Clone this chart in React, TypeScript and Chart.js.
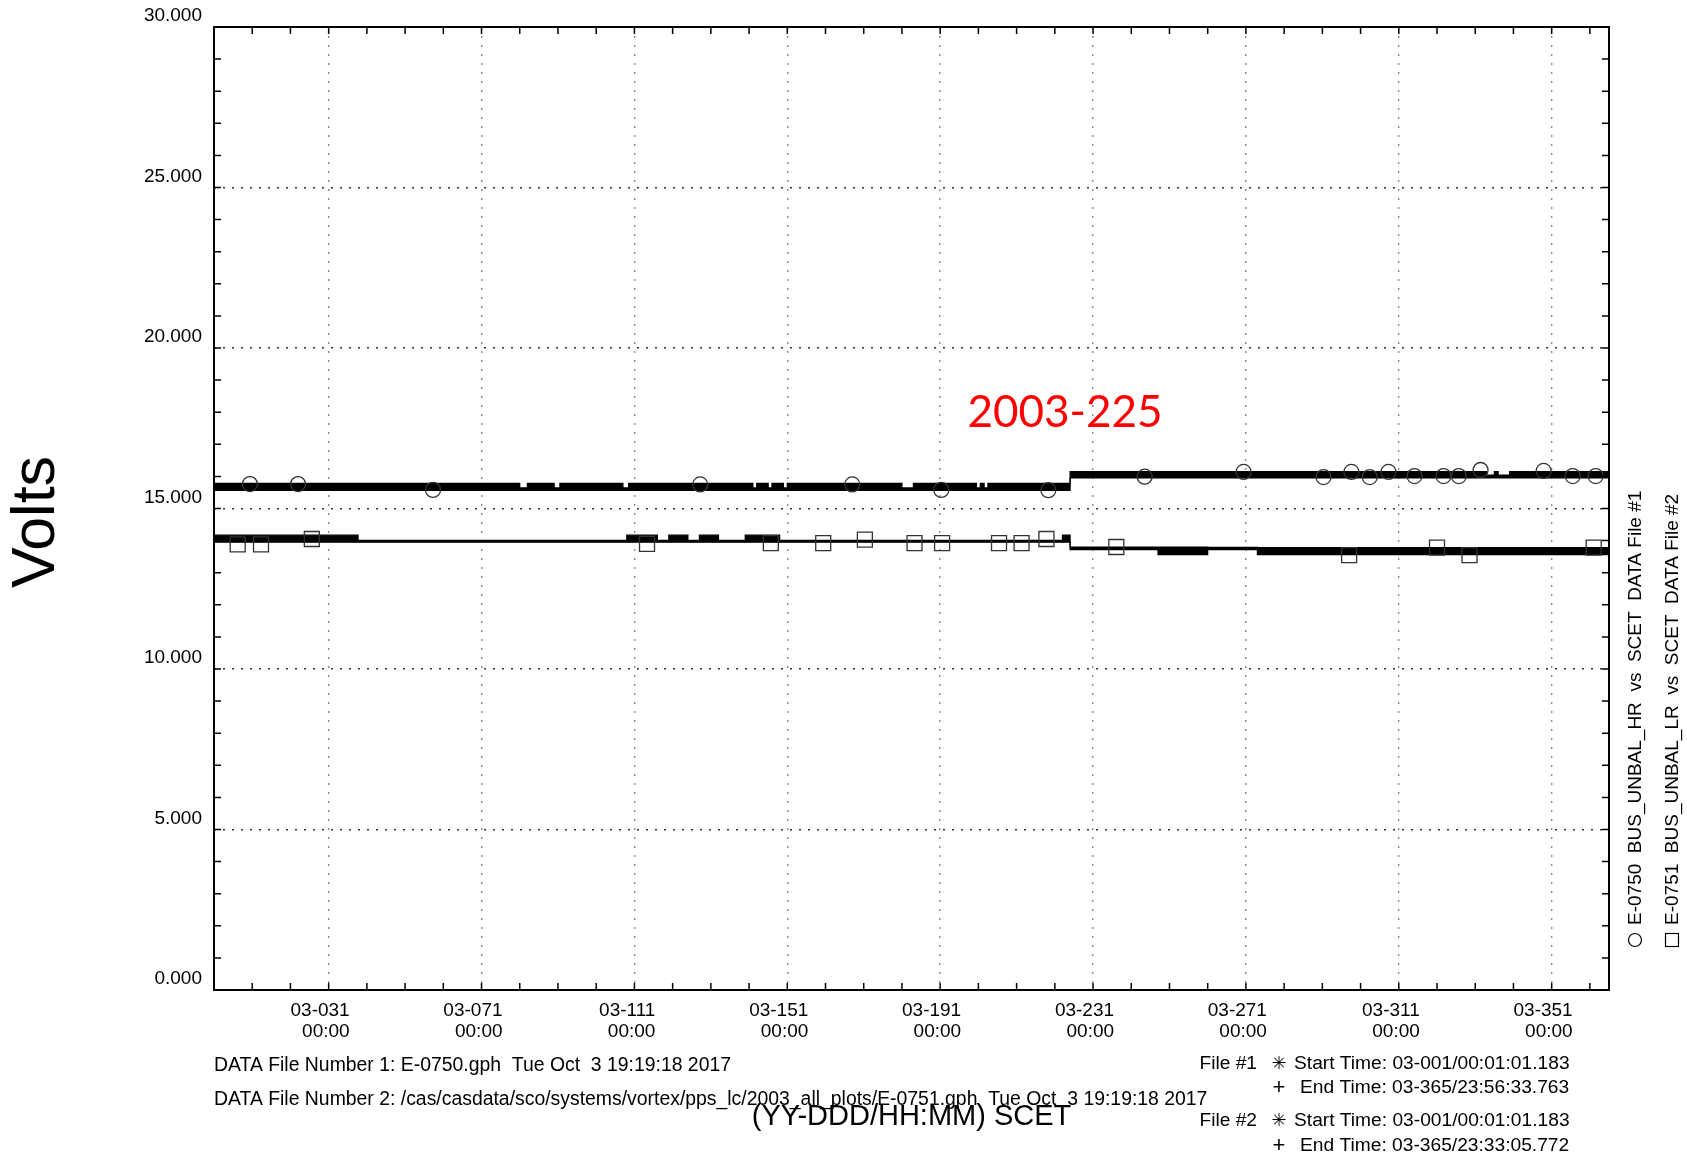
import React, { useEffect, useRef } from 'react';
import Chart from 'chart.js/auto';

const FONT = '"Liberation Sans", Arial, Helvetica, sans-serif';

// ---- axes ----
const X_MIN_DAY = 1;
const X_MAX_DAY = 366;
const X_TICK_DAYS = [31, 71, 111, 151, 191, 231, 271, 311, 351];
const X_TICK_LABELS = ['03-031', '03-071', '03-111', '03-151', '03-191', '03-231', '03-271', '03-311', '03-351'];
const X_TICK_TIME = '00:00';
const X_MINOR_FIRST = 11;
const X_MINOR_STEP = 10;
const Y_MIN = 0;
const Y_MAX = 30;
const Y_MAJOR_STEP = 5;
const Y_MINOR_STEP = 1;

// ---- E-0750 BUS_UNBAL_HR : envelope of the telemetry band (step-wise) ----
const HR_BAND_DAYS = [1, 81, 83, 90, 91.5, 108, 109.5, 142, 143, 146, 147, 150, 151, 181, 184, 200.5, 201.5, 202.5, 203.5, 225, 334, 336, 337, 340, 366];
const HR_BAND_TOP = [15.78, 15.64, 15.78, 15.64, 15.78, 15.64, 15.78, 15.64, 15.78, 15.64, 15.78, 15.64, 15.78, 15.64, 15.78, 15.64, 15.78, 15.64, 15.78, 16.15, 16.04, 16.15, 16.04, 16.15, 16.15];
const HR_BAND_BOTTOM = [15.56, 15.56, 15.56, 15.56, 15.56, 15.56, 15.56, 15.56, 15.56, 15.56, 15.56, 15.56, 15.56, 15.56, 15.56, 15.56, 15.56, 15.56, 15.56, 15.95, 15.95, 15.95, 15.95, 15.95, 15.95];
const HR_MARK_DAYS = [10.4, 23.0, 58.3, 128.2, 168, 191.3, 219.3, 244.5, 270.4, 291.3, 298.6, 303.4, 308.3, 315.1, 322.7, 326.7, 332.4, 348.9, 356.5, 362.5];
const HR_MARK_VOLTS = [15.76, 15.76, 15.58, 15.75, 15.75, 15.58, 15.57, 15.99, 16.14, 15.98, 16.14, 15.98, 16.14, 16.01, 16.01, 16.01, 16.2, 16.17, 16.01, 16.01];

// ---- E-0751 BUS_UNBAL_LR ----
const LR_BAND_DAYS = [1, 38.7, 109, 117, 120, 125, 128, 133, 140, 149, 223, 225, 248, 261, 274, 366];
const LR_BAND_TOP = [14.17, 14.01, 14.17, 14.01, 14.17, 14.01, 14.17, 14.01, 14.17, 14.01, 14.17, 13.80, 13.80, 13.79, 13.78, 13.78];
const LR_BAND_BOTTOM = [13.95, 13.95, 13.95, 13.95, 13.95, 13.95, 13.95, 13.95, 13.95, 13.95, 13.95, 13.72, 13.56, 13.72, 13.56, 13.56];
const LR_MARK_DAYS = [7.2, 13.3, 26.6, 114.3, 146.7, 160.4, 171.3, 184.3, 191.5, 206.4, 212.3, 218.8, 237.1, 298, 321, 329.5, 362];
const LR_MARK_VOLTS = [13.88, 13.88, 14.05, 13.9, 13.92, 13.92, 14.03, 13.92, 13.92, 13.92, 13.92, 14.05, 13.8, 13.55, 13.78, 13.55, 13.78];

// ---- texts ----
const Y_TITLE = 'Volts';
const X_TITLE = '(YY-DDD/HH:MM) SCET';
const LEGEND_HR = 'E-0750  BUS_UNBAL_HR  vs  SCET  DATA File #1';
const LEGEND_LR = 'E-0751  BUS_UNBAL_LR  vs  SCET  DATA File #2';
const FOOTER_1 = 'DATA File Number 1: E-0750.gph  Tue Oct  3 19:19:18 2017';
const FOOTER_2 = 'DATA File Number 2: /cas/casdata/sco/systems/vortex/pps_lc/2003_all_plots/E-0751.gph  Tue Oct  3 19:19:18 2017';
const FILE_LABELS = ['File #1', 'File #2'];
const START_TIMES = ['Start Time: 03-001/00:01:01.183', 'Start Time: 03-001/00:01:01.183'];
const END_TIMES = ['End Time: 03-365/23:56:33.763', 'End Time: 03-365/23:33:05.772'];
const ANNOTATION = '2003-225';

const pts = (xs: number[], ys: number[]) => xs.map((x, i) => ({ x, y: ys[i] }));

export default function App() {
  const ref = useRef<HTMLCanvasElement>(null);

  useEffect(() => {
    const canvas = ref.current;
    if (!canvas) return;

    const overlay = {
      id: 'overlay',
      afterDatasetsDraw(chart: any) {
        const { ctx, chartArea: a, scales } = chart;
        const xs = scales.x;
        const ys = scales.y;
        ctx.save();
        ctx.strokeStyle = '#000';
        ctx.lineWidth = 1.5;
        ctx.beginPath();
        for (let v = Y_MIN; v <= Y_MAX; v += Y_MINOR_STEP) {
          const py = ys.getPixelForValue(v);
          ctx.moveTo(a.left, py);
          ctx.lineTo(a.left + 7, py);
          ctx.moveTo(a.right, py);
          ctx.lineTo(a.right - 7, py);
        }
        for (let d = X_MINOR_FIRST; d < X_MAX_DAY; d += X_MINOR_STEP) {
          const px = xs.getPixelForValue(d);
          ctx.moveTo(px, a.bottom);
          ctx.lineTo(px, a.bottom - 7);
          ctx.moveTo(px, a.top);
          ctx.lineTo(px, a.top + 7);
        }
        ctx.stroke();
        ctx.lineWidth = 2;
        ctx.strokeRect(a.left, a.top, a.right - a.left, a.bottom - a.top);
        ctx.restore();
      },
      afterDraw(chart: any) {
        const ctx = chart.ctx;
        ctx.save();
        ctx.fillStyle = '#000';
        ctx.textBaseline = 'middle';

        // y-axis title
        ctx.save();
        ctx.translate(37, 522);
        ctx.rotate(-Math.PI / 2);
        ctx.textAlign = 'center';
        ctx.font = `61px ${FONT}`;
        ctx.fillText(Y_TITLE, 0, 0);
        ctx.restore();

        ctx.font = `19.4px ${FONT}`;
        ctx.textAlign = 'left';
        ctx.fillText(FOOTER_1, 214, 1066);
        ctx.fillText(FOOTER_2, 214, 1100);

        const rows = [[1064, 1088], [1121, 1146]];
        rows.forEach((r, i) => {
          ctx.font = `19.2px ${FONT}`;
          ctx.textAlign = 'right';
          ctx.fillText(FILE_LABELS[i], 1257, r[0]);
          ctx.textAlign = 'left';
          ctx.fillText(START_TIMES[i], 1294, r[0]);
          ctx.fillText(END_TIMES[i], 1300, r[1]);
          ctx.textAlign = 'center';
          ctx.font = `18px "DejaVu Sans", sans-serif`;
          ctx.fillText('\u2733', 1279, r[0]);
          ctx.font = `22px ${FONT}`;
          ctx.fillText('+', 1279, r[1]);
        });

        // rotated legend
        const legend = (cx: number, text: string, circle: boolean) => {
          ctx.save();
          ctx.translate(cx, 940);
          ctx.rotate(-Math.PI / 2);
          ctx.strokeStyle = '#000';
          ctx.lineWidth = 1.2;
          if (circle) {
            ctx.beginPath();
            ctx.arc(0, 0, 6.5, 0, Math.PI * 2);
            ctx.stroke();
          } else {
            ctx.strokeRect(-6.5, -6.5, 13, 13);
          }
          ctx.font = `19px ${FONT}`;
          ctx.textAlign = 'left';
          ctx.textBaseline = 'middle';
          ctx.fillText(text, 15, 1);
          ctx.restore();
        };
        legend(1635, LEGEND_HR, true);
        legend(1672, LEGEND_LR, false);

        ctx.fillStyle = '#ff0000';
        ctx.font = '44px Lato, "Open Sans", sans-serif';
        ctx.textAlign = 'center';
        ctx.fillText(ANNOTATION, 1065, 413);
        ctx.restore();
      },
    };

    const bandStyle = {
      stepped: true,
      pointRadius: 0,
      borderColor: '#000',
      borderWidth: 1.2,
      backgroundColor: '#000',
    };
    const markStyle = {
      showLine: false,
      pointBackgroundColor: 'rgba(0,0,0,0)',
      pointBorderColor: '#333',
      pointBorderWidth: 1.3,
    };

    const chart = new Chart(canvas, {
      type: 'line',
      data: {
        datasets: [
          { ...markStyle, label: 'HR marks', data: pts(HR_MARK_DAYS, HR_MARK_VOLTS), pointStyle: 'circle', pointRadius: 7.5 },
          { ...markStyle, label: 'LR marks', data: pts(LR_MARK_DAYS, LR_MARK_VOLTS), pointStyle: 'rect', pointRadius: 10.6 },
          { ...bandStyle, label: 'HR top', data: pts(HR_BAND_DAYS, HR_BAND_TOP), fill: '+1' },
          { ...bandStyle, label: 'HR bottom', data: pts(HR_BAND_DAYS, HR_BAND_BOTTOM), fill: false },
          { ...bandStyle, label: 'LR top', data: pts(LR_BAND_DAYS, LR_BAND_TOP), fill: '+1' },
          { ...bandStyle, label: 'LR bottom', data: pts(LR_BAND_DAYS, LR_BAND_BOTTOM), fill: false },
        ] as any,
      },
      options: {
        responsive: false,
        devicePixelRatio: 1,
        animation: false,
        layout: { padding: { left: 0, right: 78, top: 27, bottom: 0 } },
        plugins: { legend: { display: false }, tooltip: { enabled: false } },
        scales: {
          x: {
            type: 'linear',
            min: X_MIN_DAY,
            max: X_MAX_DAY,
            afterBuildTicks: (s: any) => {
              s.ticks = X_TICK_DAYS.map((v) => ({ value: v }));
            },
            afterFit: (s: any) => {
              s.height = 169;
            },
            ticks: {
              autoSkip: false,
              maxRotation: 0,
              minRotation: 0,
              align: 'end',
              labelOffset: 21,
              padding: 10,
              color: '#000',
              font: { family: FONT, size: 19, lineHeight: 1.1 },
              callback: (_v: any, i: number) => [X_TICK_LABELS[i], X_TICK_TIME],
            },
            grid: { drawTicks: false, color: '#8a8a8a', lineWidth: 1.4 },
            border: { display: false, dash: [2, 7] },
            title: {
              display: true,
              text: X_TITLE,
              color: '#000',
              font: { family: FONT, size: 29, lineHeight: 1.2 },
              padding: { top: 0, bottom: 25 },
            },
          },
          y: {
            type: 'linear',
            min: Y_MIN,
            max: Y_MAX,
            afterFit: (s: any) => {
              s.width = 214;
            },
            ticks: {
              stepSize: Y_MAJOR_STEP,
              padding: 12,
              labelOffset: -11,
              color: '#000',
              font: { family: FONT, size: 19 },
              callback: (v: any) => Number(v).toFixed(3),
            },
            grid: { drawTicks: false, color: '#333', lineWidth: 1.4 },
            border: { display: false, dash: [2, 7] },
            title: { display: false },
          },
        },
      } as any,
      plugins: [overlay],
    });

    return () => chart.destroy();
  }, []);

  return (
    <div style={{ position: 'absolute', left: 0, top: 0, width: 1687, height: 1159, background: '#fff' }}>
      <canvas ref={ref} width={1687} height={1159} style={{ display: 'block', width: 1687, height: 1159 }} />
    </div>
  );
}
